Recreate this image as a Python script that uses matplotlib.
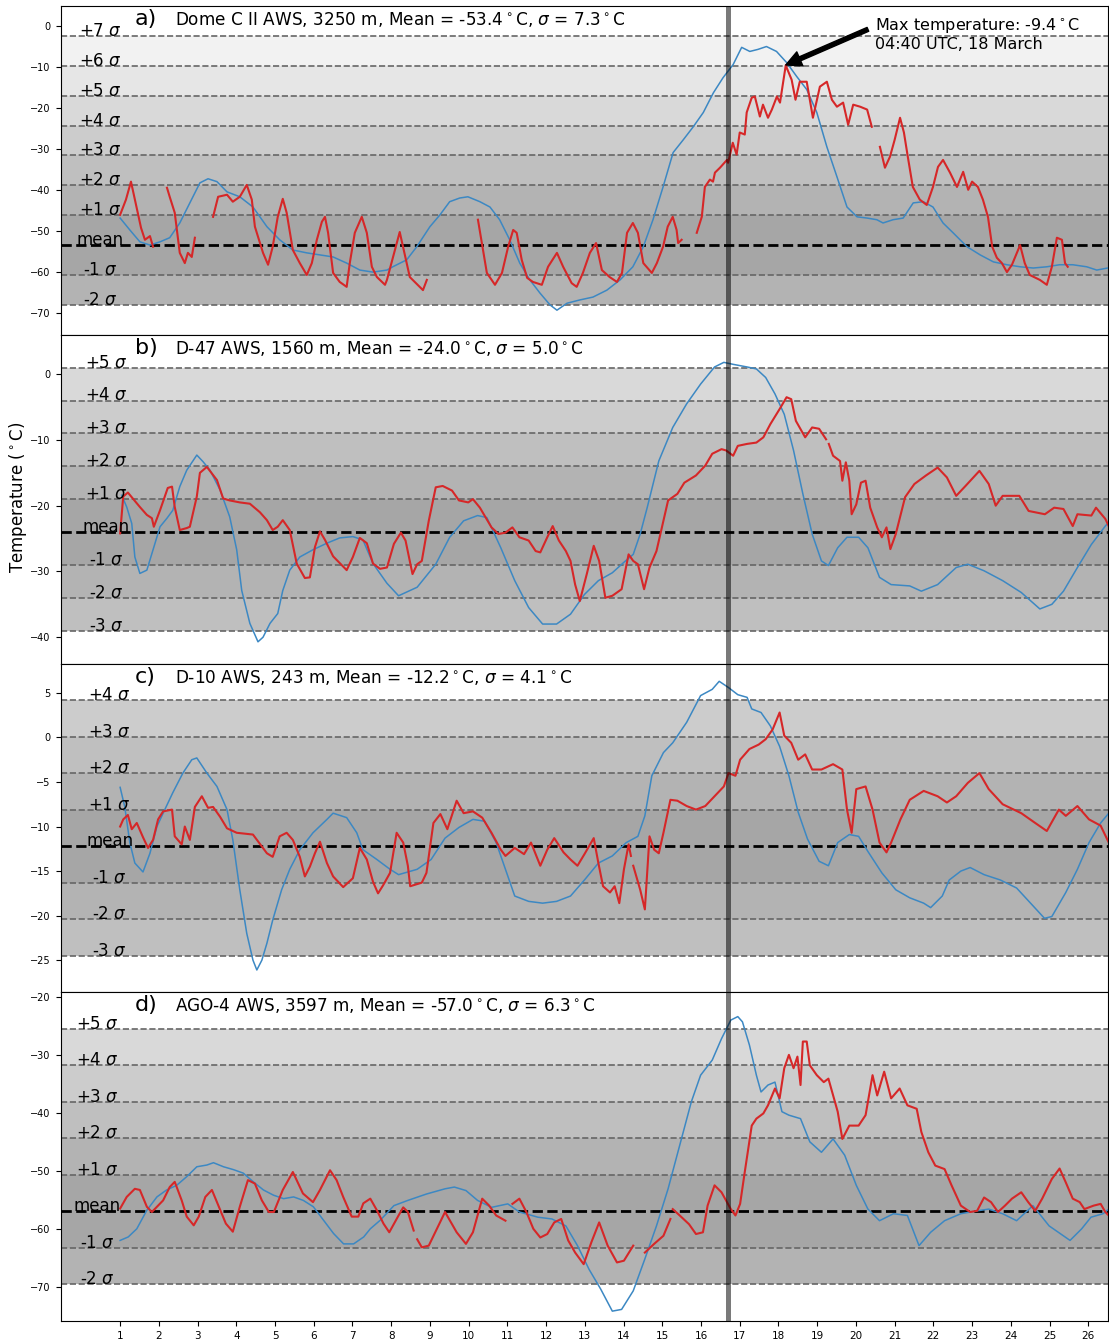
import numpy as np
import matplotlib
matplotlib.use("Agg")
import matplotlib.pyplot as plt

nan = np.nan

# ---------------- data (day of March, temperature degC) ----------------
stations = ["Dome C II AWS, 3250 m", "D-47 AWS, 1560 m", "D-10 AWS, 243 m", "AGO-4 AWS, 3597 m"]
panel_letters = ["a)", "b)", "c)", "d)"]
means = [-53.4, -24.0, -12.2, -57.0]
sigmas = [7.3, 5.0, 4.1, 6.3]
sigma_low = [-2, -3, -3, -2]
sigma_high = [7, 5, 4, 5]
label_x = [0.49, 0.64, 0.73, 0.41]

# Panel a
a_red_day = [1.0, 1.15, 1.28, 1.41, 1.54, 1.64, 1.77, 1.85, nan,
             2.21, 2.28, 2.41, 2.54, 2.67, 2.75, 2.85, 2.93, nan,
             3.40, 3.53, 3.76, 3.91, 4.09, 4.27, 4.40, 4.48, 4.69, 4.82, 4.94, 5.07, 5.20, 5.30, 5.46, 5.64,
             5.82, 5.95, 6.08, 6.21, 6.29, 6.37, 6.50, 6.67, 6.85, 6.93, 7.06, 7.24, 7.37, 7.50, 7.63, 7.84,
             7.89, 8.22, 8.48, 8.82, 8.92, nan,
             10.24, 10.47, 10.68, 10.86, 11.02, 11.15, 11.24, 11.37, 11.51, 11.66, 11.89, 12.05, 12.28, 12.44,
             12.66, 12.79, 12.95, 13.13, 13.29, 13.44, 13.64, 13.83, 13.96, 14.09, 14.24, 14.37, 14.51, 14.73,
             14.86, 15.02, 15.14, 15.27, 15.37, 15.41, 15.50, nan,
             15.89, 16.02, 16.10, 16.23, 16.31, 16.36, 16.49, 16.67, 16.70, 16.82, 16.92, 17.00, 17.13, 17.18,
             17.31, 17.39, 17.52, 17.60, 17.73, 17.83, 17.96, 18.04, 18.19, 18.21, 18.34, 18.44, 18.55, 18.73,
             18.89, 19.07, 19.25, 19.38, 19.51, 19.67, 19.80, 19.93, 20.11, 20.29, 20.41, nan,
             20.62, 20.75, 20.88, 21.00, 21.14, 21.24, 21.34, 21.47, 21.65, 21.83, 21.99, 22.12, 22.25, 22.43,
             22.61, 22.77, 22.90, 23.00, 23.15, 23.28, 23.41, 23.52, 23.64, 23.77, 23.90, 24.03, 24.24, 24.36,
             24.49, 24.75, 24.93, 25.06, 25.19, 25.32, 25.40, 25.47]
a_red_temp = [-46.0, -42.3, -37.9, -43.6, -49.2, -52.1, -51.2, -53.8, nan,
              -39.4, -41.6, -45.5, -55.3, -57.8, -55.3, -56.3, -51.6, nan,
              -46.5, -41.6, -41.1, -42.8, -41.6, -38.7, -42.3, -48.9, -55.3, -58.2, -53.8, -46.5, -42.1, -45.5,
              -54.6, -57.8, -60.7, -57.8, -52.1, -47.7, -46.5, -50.4, -60.2, -62.4, -63.6, -57.8, -50.4, -46.5,
              -50.4, -58.7, -61.2, -63.1, -61.9, -50.2, -61.2, -64.4, -61.9, nan,
              -47.2, -60.2, -63.1, -60.2, -53.8, -49.7, -50.4, -57.0, -61.4, -62.4, -63.1, -58.7, -55.3, -58.7,
              -62.7, -63.6, -60.2, -55.3, -52.9, -59.5, -61.2, -62.4, -60.2, -50.4, -48.0, -50.4, -57.8, -60.2,
              -57.8, -53.8, -48.9, -46.5, -49.7, -52.9, -52.1, nan,
              -50.4, -46.5, -39.2, -37.4, -37.9, -35.7, -34.5, -32.6, -33.3, -28.4, -31.3, -25.9, -26.4, -21.0,
              -17.4, -17.1, -22.0, -19.1, -22.3, -20.3, -17.1, -18.6, -9.4, -10.0, -13.0, -17.9, -13.5, -13.5,
              -22.3, -14.7, -13.5, -17.9, -19.6, -18.6, -24.0, -19.1, -19.6, -20.3, -24.5, nan,
              -29.4, -34.5, -31.8, -27.7, -22.3, -25.9, -31.8, -39.2, -42.3, -43.6, -39.2, -34.3, -32.6, -35.7,
              -39.2, -35.5, -39.9, -37.9, -39.2, -42.3, -46.5, -53.8, -56.5, -57.8, -60.0, -58.2, -53.4, -57.8,
              -60.7, -61.9, -63.1, -58.7, -51.6, -52.1, -57.8, -58.7]
a_blue_day = [1.0, 1.25, 1.51, 1.77, 2.03, 2.28, 2.54, 2.80, 3.06, 3.27, 3.50, 3.76, 4.09, 4.43, 4.79, 5.12,
              5.46, 5.82, 6.16, 6.50, 6.85, 7.19, 7.53, 7.89, 8.04, 8.40, 8.66, 9.00, 9.26, 9.51, 9.77, 9.98,
              10.29, 10.55, 10.80, 11.06, 11.32, 11.58, 11.84, 12.10, 12.28, 12.54, 12.87, 13.21, 13.57, 13.91,
              14.24, 14.51, 14.76, 15.02, 15.28, 15.54, 15.80, 16.06, 16.32, 16.57, 16.83, 17.05, 17.26, 17.47,
              17.69, 17.95, 18.21, 18.47, 18.73, 18.99, 19.25, 19.51, 19.77, 20.03, 20.29, 20.54, 20.70, 20.96,
              21.22, 21.48, 21.74, 21.99, 22.25, 22.51, 22.87, 23.21, 23.55, 23.90, 24.24, 24.58, 24.93, 25.26,
              25.60, 25.96, 26.22, 26.50]
a_blue_temp = [-46.8, -49.7, -52.6, -53.4, -52.6, -51.6, -48.0, -43.1, -38.2, -37.2, -37.9, -40.4, -41.6, -44.1,
               -48.9, -52.1, -54.6, -55.3, -55.8, -56.3, -57.8, -59.5, -60.0, -59.5, -58.7, -57.0, -53.8, -48.9,
               -46.0, -42.8, -41.9, -41.6, -42.8, -44.1, -47.2, -52.1, -57.8, -61.9, -65.1, -68.0, -69.3, -67.6,
               -66.8, -66.1, -64.4, -61.9, -58.7, -53.8, -47.2, -39.2, -30.8, -27.7, -24.5, -21.0, -16.2, -12.5,
               -9.3, -5.1, -6.1, -5.6, -4.9, -6.1, -8.8, -12.2, -15.4, -21.0, -29.4, -36.7, -44.1, -46.5, -46.8,
               -47.2, -48.0, -47.2, -46.8, -43.1, -42.8, -44.1, -48.0, -50.4, -53.8, -55.8, -57.5, -58.2, -58.7,
               -59.0, -58.7, -58.2, -58.2, -58.7, -59.5, -59.0]

# Panel b
b_red_day = [1.0, 1.08, 1.20, 1.51, 1.69, 1.82, 1.87, 2.03, 2.23, 2.34, 2.41, 2.54, 2.72, 2.80, 2.98, 3.06,
             3.24, 3.50, 3.66, 3.83, 4.09, 4.35, 4.61, 4.79, 4.94, 5.07, 5.20, 5.38, 5.56, 5.77, 5.90, 6.03,
             6.16, 6.29, 6.50, 6.85, 7.01, 7.19, 7.37, 7.53, 7.71, 7.89, 8.07, 8.25, 8.37, 8.55, 8.67, 8.79,
             8.97, 9.15, 9.33, 9.57, 9.75, 9.99, 10.11, 10.29, 10.59, 10.77, 10.95, 11.13, 11.31, 11.55, 11.73,
             11.85, 12.03, 12.17, 12.33, 12.51, 12.63, 12.75, 12.87, 13.05, 13.23, 13.37, 13.53, 13.71, 13.95,
             14.13, 14.25, 14.37, 14.53, 14.67, 14.85, 14.97, 15.15, 15.39, 15.57, 15.87, 16.11, 16.29, 16.53,
             16.65, 16.83, 16.95, 17.19, 17.43, 17.61, 17.79, 18.03, 18.21, 18.33, 18.45, 18.69, 18.87, 19.05,
             19.23, nan, 19.30, 19.41, 19.59, 19.65, 19.74, 19.83, 19.89, 20.01, 20.13, 20.25, 20.37, 20.55, 20.67,
             20.79, 20.89, 21.03, 21.27, 21.51, 21.81, 22.11, 22.35, 22.59, 22.83, 23.19, 23.43, 23.61, 23.79,
             24.22, 24.46, 24.88, 25.12, 25.36, 25.60, 25.72, 26.08, 26.20, 26.44, 26.53]
b_red_temp = [-24.2, -18.6, -18.0, -20.2, -21.4, -21.9, -23.2, -20.7, -17.3, -17.1, -20.2, -23.7, -23.4, -23.2,
              -18.6, -15.0, -14.1, -16.1, -18.9, -19.2, -19.5, -19.7, -21.0, -22.2, -23.7, -23.2, -22.2, -23.7,
              -28.8, -31.0, -30.9, -26.3, -23.9, -25.2, -27.7, -29.8, -27.8, -24.9, -25.7, -28.8, -29.6, -29.4,
              -25.8, -24.1, -25.3, -30.4, -28.9, -28.4, -22.3, -17.2, -17.0, -17.7, -19.2, -19.5, -19.0, -20.3,
              -23.3, -24.3, -24.1, -23.3, -24.8, -25.3, -26.9, -27.1, -24.8, -23.1, -25.3, -26.9, -28.4, -32.0,
              -34.5, -30.4, -26.1, -28.4, -34.0, -33.7, -32.7, -27.4, -28.4, -28.9, -32.7, -29.4, -26.9, -23.8,
              -19.2, -18.2, -16.5, -15.4, -13.9, -12.1, -11.4, -11.6, -12.4, -10.9, -10.6, -10.4, -9.6, -7.6,
              -5.3, -3.5, -3.8, -7.1, -9.6, -8.1, -8.3, -9.9, nan, -10.6, -12.4, -13.2, -16.2, -13.4, -16.2, -21.3,
              -19.8, -16.5, -16.2, -20.3, -23.3, -24.8, -23.3, -26.6, -24.3, -18.7, -16.7, -15.4, -14.2, -15.7,
              -18.5, -17.0, -14.7, -16.7, -20.0, -18.5, -18.5, -20.8, -21.3, -20.3, -20.5, -23.1, -21.3, -21.5,
              -20.3, -22.0, -23.1]
b_blue_day = [1.04, 1.17, 1.30, 1.38, 1.51, 1.69, 1.85, 2.03, 2.21, 2.36, 2.54, 2.72, 2.98, 3.14, 3.32, 3.58,
              3.83, 4.01, 4.14, 4.35, 4.56, 4.69, 4.87, 5.07, 5.20, 5.38, 5.64, 5.98, 6.34, 6.67, 7.01, 7.27,
              7.53, 7.89, 8.19, 8.67, 9.15, 9.51, 9.87, 10.23, 10.47, 10.83, 11.19, 11.55, 11.91, 12.27, 12.63,
              12.99, 13.35, 13.71, 14.01, 14.25, 14.43, 14.61, 14.91, 15.27, 15.63, 15.99, 16.35, 16.59, 16.83,
              17.19, 17.43, 17.67, 17.91, 18.15, 18.39, 18.63, 18.87, 19.11, 19.29, 19.53, 19.77, 20.07, 20.31,
              20.61, 20.91, 21.39, 21.69, 22.11, 22.59, 22.89, 23.31, 23.79, 24.27, 24.75, 25.06, 25.36, 25.72,
              26.08, 26.44, 26.53]
b_blue_temp = [-18.4, -20.2, -22.7, -27.8, -30.3, -29.8, -26.7, -23.2, -21.9, -20.7, -17.1, -14.6, -12.3, -13.3,
               -14.6, -17.6, -21.7, -26.7, -32.9, -37.9, -40.7, -40.0, -37.9, -36.4, -32.9, -29.8, -27.8, -26.7,
               -25.7, -24.9, -24.7, -25.2, -28.8, -31.8, -33.7, -32.4, -28.9, -24.8, -22.3, -21.5, -21.8, -26.4,
               -31.4, -35.5, -38.0, -38.0, -36.5, -33.5, -31.4, -30.2, -28.6, -27.4, -24.3, -20.3, -13.2, -8.1,
               -4.5, -1.5, 1.1, 1.8, 1.5, 1.1, 0.8, -0.5, -3.0, -6.1, -11.6, -18.2, -24.3, -28.4, -29.1, -26.4,
               -24.8, -24.8, -26.4, -30.9, -32.0, -32.2, -33.0, -32.0, -29.4, -28.9, -29.9, -31.4, -33.2, -35.7,
               -35.0, -33.0, -29.4, -25.9, -23.1, -22.5]

# Panel c
c_red_day = [1.0, 1.08, 1.20, 1.30, 1.43, 1.59, 1.72, 1.85, 1.98, 2.11, 2.34, 2.41, 2.59, 2.67, 2.80, 2.93,
             3.11, 3.27, 3.40, 3.58, 3.76, 4.01, 4.43, 4.79, 4.94, 5.12, 5.30, 5.46, 5.64, 5.77, 5.90, 6.03,
             6.16, 6.34, 6.50, 6.76, 7.01, 7.19, 7.37, 7.53, 7.66, 7.79, 7.97, 8.14, 8.31, 8.43, 8.49, 8.79,
             8.91, 9.09, 9.27, 9.45, 9.69, 9.87, 10.11, 10.35, 10.59, 10.83, 10.95, 11.19, 11.43, 11.61, 11.85,
             12.03, 12.21, 12.45, 12.63, 12.81, 12.99, 13.23, 13.35, 13.47, 13.65, 13.77, 13.89, 14.01, 14.13,
             14.19, nan, 14.25, 14.43, 14.55, 14.67, 14.79, 14.91, 15.03, 15.21, 15.39, 15.63, 15.87, 16.11, 16.35,
             16.59, 16.71, 16.89, 17.01, 17.25, 17.49, 17.67, 17.85, 18.03, 18.15, 18.33, 18.51, 18.69, 18.87,
             19.11, 19.41, 19.65, 19.77, 19.89, 20.01, 20.25, 20.43, 20.61, 20.79, 20.91, 21.15, 21.39, 21.75,
             22.11, 22.35, 22.59, 22.89, 23.19, 23.43, 23.79, 24.27, 24.63, 24.93, 25.24, 25.42, 25.72, 26.02,
             26.32, 26.53]
c_red_temp = [-10.0, -9.2, -8.7, -10.3, -9.6, -11.2, -12.4, -11.5, -9.2, -8.3, -8.1, -11.1, -12.0, -10.0, -11.5,
              -7.8, -6.6, -7.9, -7.8, -8.9, -10.2, -10.7, -10.9, -13.0, -13.4, -11.1, -10.7, -11.5, -13.4, -15.6,
              -14.5, -13.0, -11.7, -14.1, -15.6, -16.8, -15.8, -12.4, -13.7, -16.2, -17.5, -16.6, -15.2, -10.7,
              -11.8, -14.4, -16.7, -16.3, -15.2, -9.6, -8.6, -10.3, -7.1, -8.5, -8.3, -9.0, -10.7, -12.6, -13.3,
              -12.4, -13.1, -11.8, -14.4, -12.6, -11.3, -12.9, -13.7, -14.4, -13.1, -11.3, -14.1, -16.7, -17.4,
              -16.7, -18.6, -14.8, -12.0, -13.3, nan, -14.4, -17.1, -19.3, -11.1, -12.6, -13.0, -10.7, -7.0, -7.1,
              -7.7, -8.1, -7.7, -6.6, -5.5, -4.0, -4.3, -2.5, -1.3, -0.8, -0.2, 0.9, 2.8, 0.2, -0.6, -2.5, -1.9,
              -3.6, -3.6, -3.0, -3.6, -8.1, -10.7, -5.8, -5.5, -8.1, -11.8, -12.9, -11.8, -9.2, -7.0, -6.0, -6.6,
              -7.3, -6.6, -5.1, -4.0, -5.8, -7.5, -8.5, -9.6, -10.5, -8.1, -8.8, -7.7, -9.2, -9.9, -11.8]
c_blue_day = [1.0, 1.12, 1.25, 1.38, 1.59, 1.77, 1.95, 2.11, 2.36, 2.62, 2.85, 2.98, 3.24, 3.50, 3.76, 3.91,
              4.09, 4.27, 4.43, 4.53, 4.66, 4.79, 4.94, 5.17, 5.38, 5.64, 5.98, 6.34, 6.50, 6.85, 7.11, 7.27,
              7.63, 7.97, 8.19, 8.67, 9.03, 9.39, 9.75, 10.11, 10.41, 10.71, 10.95, 11.19, 11.55, 11.91, 12.27,
              12.63, 12.99, 13.35, 13.71, 14.07, 14.37, 14.55, 14.73, 15.03, 15.27, 15.63, 15.99, 16.29, 16.47,
              16.71, 16.95, 17.19, 17.31, 17.55, 17.79, 18.03, 18.27, 18.51, 18.75, 19.05, 19.29, 19.53, 19.83,
              20.07, 20.31, 20.67, 21.03, 21.39, 21.75, 21.93, 22.23, 22.41, 22.71, 22.95, 23.31, 23.73, 24.15,
              24.51, 24.87, 25.06, 25.42, 25.72, 26.02, 26.32, 26.53]
c_blue_temp = [-5.6, -7.8, -11.8, -14.1, -15.1, -13.0, -10.0, -8.5, -6.2, -4.0, -2.5, -2.3, -4.0, -5.5, -8.1,
               -11.5, -17.1, -22.0, -25.0, -26.1, -25.0, -23.1, -20.5, -17.1, -14.8, -12.6, -10.7, -9.2, -8.5,
               -9.0, -10.7, -12.6, -13.7, -14.8, -15.4, -14.8, -13.7, -11.3, -10.1, -9.2, -9.4, -11.8, -14.8,
               -17.8, -18.4, -18.6, -18.4, -17.8, -16.0, -14.1, -13.3, -11.8, -11.1, -8.8, -4.3, -1.7, -0.6, 1.7,
               4.7, 5.4, 6.3, 5.6, 4.8, 4.5, 3.2, 2.8, 1.3, -1.0, -4.3, -8.4, -11.4, -13.9, -14.4, -11.8, -10.9,
               -11.1, -12.8, -15.2, -17.1, -18.0, -18.6, -19.1, -17.8, -16.0, -15.0, -14.6, -15.4, -16.0, -16.9,
               -18.6, -20.3, -20.1, -17.4, -14.8, -11.8, -9.6, -8.5]

# Panel d
d_red_day = [1.0, 1.17, 1.38, 1.51, 1.69, 1.82, 1.95, 2.11, 2.28, 2.41, 2.59, 2.72, 2.90, 3.03, 3.20, 3.37,
             3.55, 3.73, 3.91, 4.09, 4.30, 4.48, 4.66, 4.84, 4.97, 5.20, 5.46, 5.72, 5.98, 6.16, 6.42, 6.59,
             6.76, 6.98, 7.15, 7.28, 7.46, 7.63, 7.80, 7.95, 8.19, 8.31, 8.43, 8.58, nan,
             8.67, 8.79, 8.97, 9.39, 9.69, 9.93, 10.11, 10.35, 10.53, 10.71, 10.95, nan,
             11.13, 11.31, 11.49, 11.67, 11.85, 12.03, 12.21, 12.39, 12.57, 12.75, 12.97, 13.17, 13.37, 13.59,
             13.83, 14.01, 14.25, nan,
             14.55, 14.79, 15.03, 15.21, nan,
             15.27, 15.45, 15.69, 15.87, 16.05, 16.17, 16.35, 16.53, 16.77, 16.89, 17.01, 17.13, 17.31, 17.43,
             17.61, 17.73, 17.91, 18.03, 18.15, 18.27, 18.39, 18.49, 18.57, 18.63, 18.73, 18.81, 18.99, 19.17,
             19.29, 19.53, 19.65, 19.83, 20.07, 20.25, 20.43, 20.55, 20.73, 20.91, 21.13, 21.33, 21.57, 21.69,
             21.87, 22.05, 22.29, 22.47, 22.71, 22.95, 23.13, 23.31, 23.49, 23.67, 23.85, 24.03, 24.27, 24.45,
             24.63, 24.81, 25.06, 25.26, 25.42, 25.60, 25.78, 25.90, 26.14, 26.32, 26.44, 26.53]
d_red_temp = [-56.5, -54.5, -53.1, -53.3, -56.2, -57.1, -56.2, -55.1, -52.8, -51.9, -55.1, -57.9, -59.4, -57.9,
              -54.5, -53.3, -56.2, -59.1, -60.5, -56.2, -51.6, -52.2, -55.1, -57.1, -57.1, -53.3, -50.2, -53.9,
              -55.4, -53.3, -49.9, -51.6, -54.5, -57.9, -57.9, -55.6, -54.8, -56.8, -59.1, -60.6, -57.7, -56.3,
              -57.1, -60.3, nan,
              -61.8, -63.2, -62.9, -57.1, -60.6, -62.6, -60.6, -54.8, -56.0, -57.7, -58.6, nan,
              -55.7, -54.8, -57.1, -60.0, -61.5, -60.9, -58.9, -58.3, -62.0, -64.1, -66.1, -62.3, -58.9, -62.9,
              -65.8, -65.5, -62.9, nan,
              -64.1, -62.6, -61.2, -58.3, nan,
              -56.6, -57.7, -59.2, -60.9, -60.6, -56.0, -52.5, -53.7, -56.6, -57.7, -55.7, -50.2, -42.2, -41.0,
              -40.1, -38.7, -35.8, -37.5, -32.3, -30.0, -32.3, -30.3, -35.2, -27.7, -27.7, -31.8, -33.5, -34.7,
              -34.1, -39.8, -44.5, -42.2, -42.2, -40.4, -33.5, -37.0, -32.9, -37.5, -35.8, -38.7, -39.3, -43.3,
              -46.8, -49.1, -49.7, -52.5, -56.0, -57.1, -56.9, -54.6, -55.4, -57.1, -56.0, -54.8, -53.7, -55.4,
              -56.9, -54.8, -51.4, -49.6, -52.0, -54.8, -55.4, -56.6, -56.0, -55.7, -57.1, -57.7]
d_blue_day = [1.0, 1.21, 1.43, 1.69, 1.95, 2.20, 2.46, 2.72, 2.98, 3.24, 3.41, 3.67, 3.93, 4.18, 4.44, 4.70,
              4.96, 5.22, 5.48, 5.73, 5.99, 6.25, 6.51, 6.77, 7.03, 7.29, 7.46, 7.72, 8.07, 8.43, 8.91, 9.39,
              9.63, 9.93, 10.23, 10.59, 11.01, 11.31, 11.79, 12.15, 12.51, 12.81, 13.11, 13.41, 13.71, 13.95,
              14.25, 14.55, 14.85, 15.15, 15.45, 15.75, 15.99, 16.29, 16.53, 16.77, 16.95, 17.07, 17.25, 17.43,
              17.55, 17.73, 17.91, 18.09, 18.27, 18.57, 18.81, 19.11, 19.41, 19.71, 20.01, 20.31, 20.61, 20.97,
              21.33, 21.63, 21.93, 22.29, 22.71, 23.13, 23.43, 23.79, 24.15, 24.57, 24.99, 25.53, 25.83, 26.07,
              26.38, 26.53]
d_blue_temp = [-62.0, -61.4, -60.0, -56.8, -54.5, -53.3, -52.5, -51.0, -49.3, -49.0, -48.6, -49.3, -49.8, -50.4,
               -51.9, -53.3, -54.2, -54.8, -54.5, -55.1, -56.2, -58.5, -60.8, -62.6, -62.6, -61.4, -60.0, -58.5,
               -56.0, -55.1, -54.0, -53.1, -52.8, -53.4, -55.1, -56.3, -55.7, -57.1, -58.0, -58.3, -59.5, -62.9,
               -67.0, -70.4, -74.2, -73.9, -70.7, -65.2, -59.5, -53.1, -45.6, -38.1, -33.5, -30.9, -27.2, -24.0,
               -23.4, -24.3, -28.3, -33.5, -36.4, -35.2, -34.7, -39.8, -40.4, -41.0, -45.0, -46.8, -44.5, -47.3,
               -52.5, -56.6, -58.6, -57.4, -57.7, -62.9, -60.6, -58.6, -57.4, -56.9, -56.6, -57.4, -58.6, -56.0,
               -59.5, -62.0, -60.0, -58.0, -57.4, -56.6]

red_days = [a_red_day, b_red_day, c_red_day, d_red_day]
red_temps = [a_red_temp, b_red_temp, c_red_temp, d_red_temp]
blue_days = [a_blue_day, b_blue_day, c_blue_day, d_blue_day]
blue_temps = [a_blue_temp, b_blue_temp, c_blue_temp, d_blue_temp]

yticks = [list(range(0, -80, -10)), list(range(0, -50, -10)), list(range(5, -30, -5)), list(range(-20, -80, -10))]
xticks = list(range(1, 27))
event_day = 16.7
max_day, max_temp = 18.19, -9.4

# ---------------- figure ----------------
W, H = 1109, 1339
fig = plt.figure(figsize=(W / 100, H / 100), dpi=100)
left_px, right_px, top_px, bot_px = 60.5, 1108, 6, 1321
ph = (bot_px - top_px) / 4

RED = "#d62728"
BLUE = "#3c88c3"

axes = []
for i in range(4):
    top_i = top_px + i * ph
    ax = fig.add_axes([left_px / W, 1 - (top_i + ph) / H, (right_px - left_px) / W, ph / H],
                      sharex=axes[0] if axes else None)
    axes.append(ax)
    m, s = means[i], sigmas[i]
    lo, hi = sigma_low[i], sigma_high[i]
    # bands
    for k in range(lo, hi):
        j = k if k >= 0 else -k - 1
        shade = 0.65 + 0.05 * j
        ax.axhspan(m + k * s, m + (k + 1) * s, color=str(shade), lw=0, zorder=0)
    for k in range(lo, hi + 1):
        if k == 0:
            ax.axhline(m, color="black", ls="--", lw=2, zorder=2)
            lab = "mean"
        else:
            ax.axhline(m + k * s, color="0.4", ls="--", lw=1.2, zorder=1)
            lab = ("+%d" % k if k > 0 else "%d" % k) + r" $\sigma$"
        ax.text(label_x[i], m + k * s, lab, ha="center", va="baseline", fontsize=12, zorder=5)
    ax.plot(blue_days[i], blue_temps[i], color=BLUE, lw=1.1, zorder=3)
    ax.plot(red_days[i], red_temps[i], color=RED, lw=1.5, zorder=4)
    ax.axvline(event_day, color="black", alpha=0.52, lw=3.6, zorder=6)
    ax.set_ylim(m + (lo - 1) * s, m + (hi + 1) * s)
    ax.set_yticks(yticks[i])
    ax.tick_params(axis="y", labelsize=7)
    ax.text(0.0711, 0.942, panel_letters[i], transform=ax.transAxes, fontsize=16, va="baseline", ha="left")
    ax.text(0.1093, 0.942,
            stations[i] + ", Mean = %.1f$^\\circ$C, $\\sigma$ = %.1f$^\\circ$C" % (m, s),
            transform=ax.transAxes, fontsize=12.2, va="baseline", ha="left")
    if i < 3:
        ax.tick_params(axis="x", labelbottom=False)

axes[0].set_xlim(-0.54, 26.51)
axes[0].set_xticks(xticks)
axes[3].tick_params(axis="x", labelsize=7.5)

axes[0].text(20.49, 2.6, "Max temperature: %.1f$^\\circ$C\n04:40 UTC, 18 March" % max_temp,
             fontsize=11.5, va="top", ha="left", zorder=10)
axes[0].annotate("", xy=(max_day, max_temp), xytext=(20.31, -0.7),
                 arrowprops=dict(facecolor="black", edgecolor="black", width=3, headwidth=11,
                                 headlength=11, shrink=0.0), zorder=10)

fig.text(18 / W, 1 - 497 / H, r"Temperature ($^\circ$C)", rotation=90, ha="center", va="center", fontsize=12)

fig.savefig("out.png", dpi=100)
